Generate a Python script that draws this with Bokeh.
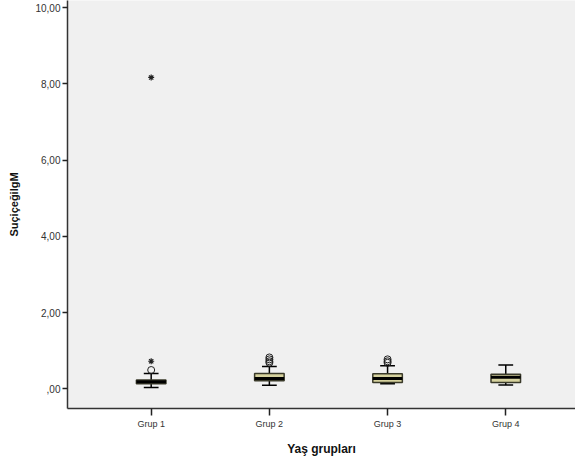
from bokeh.plotting import figure
from bokeh.models import FixedTicker, CustomJSTickFormatter, Range1d
from bokeh.embed import file_html
from bokeh.resources import INLINE

# ---- data ----
groups = ["Grup 1", "Grup 2", "Grup 3", "Grup 4"]
xpos = [1, 2, 3, 4]
lower_whisker = [0.03, 0.09, 0.13, 0.10]
q1 = [0.13, 0.21, 0.16, 0.16]
median = [0.18, 0.27, 0.27, 0.30]
q3 = [0.23, 0.40, 0.39, 0.38]
upper_whisker = [0.40, 0.58, 0.60, 0.62]
outlier_x = [1, 2, 2, 2, 2, 3, 3, 3]
outlier_y = [0.49, 0.68, 0.72, 0.77, 0.82, 0.68, 0.72, 0.77]
extreme_x = [1, 1]
extreme_y = [0.72, 8.17]
y_ticks = [0, 2, 4, 6, 8, 10]

FONT = "Liberation Sans"
BOX_W = 0.25
CAP_W = 0.125

p = figure(width=575, height=458, output_backend="svg", toolbar_location=None,
           x_range=Range1d(0.292, 4.59), y_range=Range1d(-0.52, 10.19),
           min_border_left=67, min_border_right=0, min_border_top=0, min_border_bottom=45)
p.background_fill_color = "#F0F0F0"
p.border_fill_color = "white"
p.outline_line_color = None
p.grid.visible = False

# whiskers
p.segment(x0=xpos, y0=q3, x1=xpos, y1=upper_whisker, line_color="#000000", line_width=1.5)
p.segment(x0=xpos, y0=lower_whisker, x1=xpos, y1=q1, line_color="#000000", line_width=1.5)
# caps
p.segment(x0=[x - CAP_W / 2 for x in xpos], y0=upper_whisker,
          x1=[x + CAP_W / 2 for x in xpos], y1=upper_whisker, line_color="#000000", line_width=1.5)
p.segment(x0=[x - CAP_W / 2 for x in xpos], y0=lower_whisker,
          x1=[x + CAP_W / 2 for x in xpos], y1=lower_whisker, line_color="#000000", line_width=1.5)
# boxes
p.vbar(x=xpos, width=BOX_W, bottom=q1, top=q3, fill_color="#D6D29E",
       line_color="#3A3A2A", line_width=1.5)
# medians
p.segment(x0=[x - BOX_W / 2 for x in xpos], y0=median,
          x1=[x + BOX_W / 2 for x in xpos], y1=median, line_color="#000000", line_width=3)
# outliers
p.scatter(outlier_x, outlier_y, marker="circle", size=7, fill_color=None,
          line_color="#222222", line_width=1)
p.scatter(extreme_x, extreme_y, marker="asterisk", size=6, line_color="#222222", line_width=1.2)

# axes
p.yaxis.ticker = FixedTicker(ticks=y_ticks)
p.yaxis.formatter = CustomJSTickFormatter(
    code="return tick === 0 ? ',00' : tick.toFixed(2).replace('.', ',');")
p.xaxis.ticker = FixedTicker(ticks=xpos)
p.xaxis.major_label_overrides = {x: g for x, g in zip(xpos, groups)}

for ax in (p.xaxis, p.yaxis):
    ax.axis_line_color = "#333333"
    ax.axis_line_width = 1.5
    ax.major_tick_line_color = "#222222"
    ax.major_tick_line_width = 1.5
    ax.major_tick_in = 0
    ax.minor_tick_line_color = None
    ax.major_label_text_font = FONT
    ax.major_label_text_color = "#333333"
    ax.axis_label_text_font = FONT
    ax.axis_label_text_font_style = "bold"
    ax.axis_label_text_color = "#111111"

p.yaxis.major_tick_out = 5
p.yaxis.major_label_text_font_size = "10px"
p.yaxis.major_label_standoff = 2
p.yaxis.axis_label = "SuçiçeğilgM"
p.yaxis.axis_label_text_font_size = "11px"
p.yaxis.axis_label_standoff = 12

p.xaxis.major_tick_out = 7
p.xaxis.major_label_text_font_size = "9px"
p.xaxis.major_label_standoff = 3
p.xaxis.axis_label = "Yaş grupları"
p.xaxis.axis_label_text_font_size = "12px"
p.xaxis.axis_label_standoff = 10

open("out.html", "w").write(file_html(p, INLINE))
